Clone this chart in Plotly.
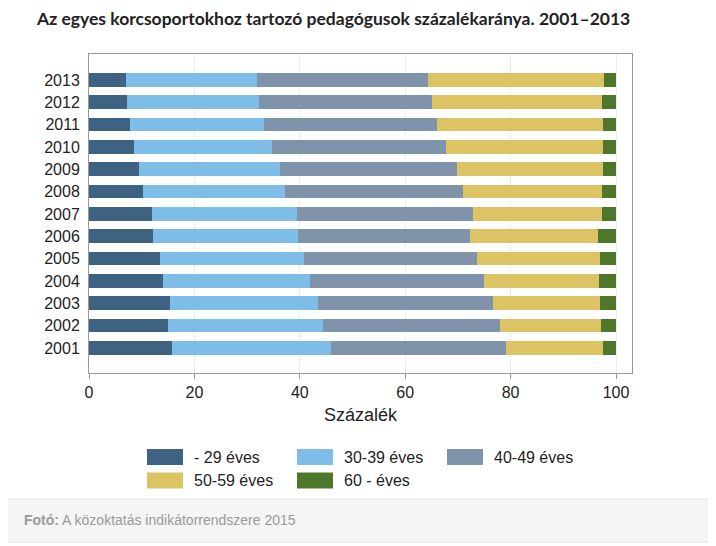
import plotly.graph_objects as go

years = ["2001", "2002", "2003", "2004", "2005", "2006", "2007",
         "2008", "2009", "2010", "2011", "2012", "2013"]
series_names = ["- 29 éves", "30-39 éves", "40-49 éves", "50-59 éves", "60 - éves"]
age_u29 = [15.8, 15.0, 15.3, 14.1, 13.4, 12.2, 11.9, 10.2, 9.4, 8.6, 7.7, 7.2, 7.1]
age_30_39 = [30.2, 29.4, 28.2, 27.9, 27.4, 27.4, 27.5, 26.9, 26.8, 26.1, 25.6, 25.0, 24.8]
age_40_49 = [33.2, 33.5, 33.2, 32.9, 32.9, 32.7, 33.5, 33.8, 33.7, 33.1, 32.8, 32.8, 32.5]
age_50_59 = [18.3, 19.3, 20.2, 21.8, 23.2, 24.3, 24.5, 26.4, 27.7, 29.8, 31.5, 32.3, 33.3]
age_60p = [2.5, 2.8, 3.1, 3.3, 3.1, 3.4, 2.6, 2.7, 2.4, 2.4, 2.4, 2.7, 2.3]
x_ticks = [0, 20, 40, 60, 80, 100]

colors = ["#3d6282", "#7ebde8", "#7f93ab", "#dcc364", "#4f772b"]
series = [age_u29, age_30_39, age_40_49, age_50_59, age_60p]

# page offset (body margin) compensation
OX, OY = 8, 8
W, H = 716 - OX, 546 - OY
L, R, T, B = 89, 632, 54, 373


def px(xp):
    return (xp - L) / (R - L)


def py(yp):
    return (B - yp) / (B - T)


fig = go.Figure()
for name, vals, col in zip(series_names, series, colors):
    fig.add_trace(go.Bar(y=years, x=vals, name=name, orientation="h",
                         marker=dict(color=col, line=dict(width=0)),
                         showlegend=False))

font_main = "Liberation Sans, Arial, sans-serif"

shapes = []
annotations = []
# outer frame and footer band
shapes.append(dict(type="rect", xref="paper", yref="paper",
                   x0=px(4), x1=px(711), y0=py(542), y1=py(5),
                   line=dict(color="#e4e4e4", width=1), fillcolor="rgba(0,0,0,0)", layer="below"))
shapes.append(dict(type="rect", xref="paper", yref="paper",
                   x0=px(4), x1=px(711), y0=py(542), y1=py(499),
                   line=dict(color="#e4e4e4", width=1), fillcolor="#f5f5f5", layer="below"))

# custom legend
legend_pos = [(147, 457), (297, 457), (447, 457), (147, 480.5), (297, 480.5)]
for (lx, ly), name, col in zip(legend_pos, series_names, colors):
    shapes.append(dict(type="rect", xref="paper", yref="paper",
                       x0=px(lx), x1=px(lx + 36), y0=py(ly + 8), y1=py(ly - 8),
                       line=dict(width=0), fillcolor=col))
    annotations.append(dict(text=name, xref="paper", yref="paper",
                            x=px(lx + 45), y=py(ly), xanchor="left", yanchor="middle",
                            showarrow=False, font=dict(family=font_main, size=16, color="#222")))

annotations.append(dict(text="<b>Az egyes korcsoportokhoz tartozó pedagógusok százalékaránya. 2001–2013</b>",
                        xref="paper", yref="paper", x=px(34), y=py(19),
                        xanchor="left", yanchor="middle", showarrow=False,
                        font=dict(family="Lato, Open Sans, sans-serif", size=17.5, color="#222")))
annotations.append(dict(text="<b>Fotó:</b> A közoktatás indikátorrendszere 2015",
                        xref="paper", yref="paper", x=px(22), y=py(520),
                        xanchor="left", yanchor="middle", showarrow=False,
                        font=dict(family=font_main, size=14, color="#9a9a9a")))

fig.update_layout(
    barmode="stack",
    bargap=0.39,
    width=W, height=H,
    margin=dict(l=L - OX, r=716 - R, t=T - OY, b=546 - B, pad=0),
    paper_bgcolor="white", plot_bgcolor="white",
    font=dict(family=font_main, size=16, color="#222"),
    shapes=shapes, annotations=annotations,
    xaxis=dict(range=[0, (R - L) / 5.27], tickvals=x_ticks,
               ticktext=[str(v) for v in x_ticks],
               showgrid=True, gridcolor="#ececec", gridwidth=1,
               showline=True, linecolor="#999", linewidth=1, mirror=True,
               ticks="outside", ticklen=5, tickcolor="#999",
               tickfont=dict(size=16, color="#222"),
               title=dict(text="Százalék", font=dict(size=18, color="#222"), standoff=8),
               zeroline=False),
    yaxis=dict(type="category", categoryorder="array", categoryarray=years,
               range=[-1.12, 13.16], showgrid=False,
               showline=True, linecolor="#999", linewidth=1, mirror=True,
               ticks="", ticklen=0, tickfont=dict(size=16, color="#222"),
               ticklabelstandoff=5),
)

fig.write_html("out.html")
